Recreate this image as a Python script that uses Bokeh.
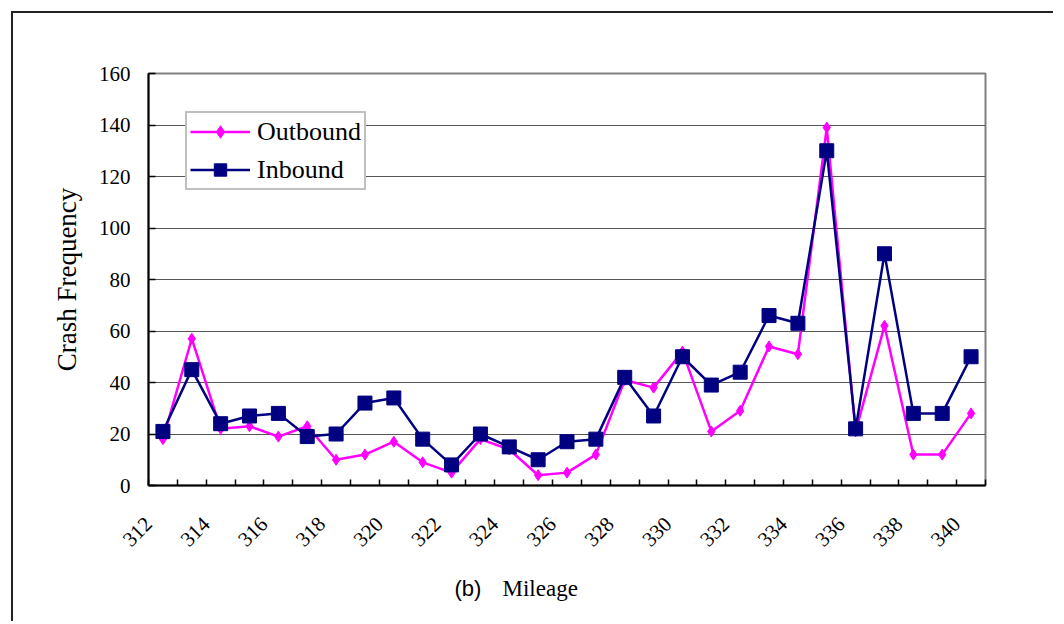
import math
from bokeh.plotting import figure
from bokeh.models import FixedTicker, Title, Range1d, ColumnDataSource, CustomJSTickFormatter
from bokeh.embed import file_html
from bokeh.resources import INLINE

mileage = list(range(312, 341))
outbound = [18, 57, 22, 23, 19, 23, 10, 12, 17, 9, 5, 18, 14, 4, 5, 12, 41, 38, 52, 21, 29, 54, 51, 139, 21, 62, 12, 12, 28]
inbound = [21, 45, 24, 27, 28, 19, 20, 32, 34, 18, 8, 20, 15, 10, 17, 18, 42, 27, 50, 39, 44, 66, 63, 130, 22, 90, 28, 28, 50]
labelled = mileage[::2]

src = ColumnDataSource(dict(mile=mileage, outbound=outbound, inbound=inbound))

p = figure(width=1042, height=610, output_backend="svg", toolbar_location=None,
           x_range=Range1d(mileage[0] - 0.5, mileage[-1] + 0.5), y_range=Range1d(0, 160),
           min_border_left=135, min_border_right=70, min_border_top=60, min_border_bottom=138)
p.styles = {"margin-left": "11px", "margin-top": "11px", "margin-bottom": "-30px",
            "border-left": "2px solid #222222", "border-top": "2px solid #222222"}
p.background_fill_color = "white"
p.border_fill_color = "white"
p.outline_line_color = "#808080"
p.outline_line_width = 2

FONT = "Liberation Serif"

# y axis
p.yaxis.ticker = FixedTicker(ticks=list(range(0, 161, 20)))
p.yaxis.major_label_text_font = FONT
p.yaxis.major_label_text_font_size = "21px"
p.yaxis.major_label_text_color = "black"
p.yaxis.major_tick_in = 7
p.yaxis.major_tick_out = 0
p.yaxis.major_tick_line_color = "black"
p.yaxis.major_tick_line_width = 1.5
p.yaxis.minor_tick_line_color = None
p.yaxis.axis_line_color = "black"
p.yaxis.axis_line_width = 2
p.yaxis.major_label_standoff = 18
p.yaxis.axis_label = "Crash Frequency"
p.yaxis.axis_label_text_font = FONT
p.yaxis.axis_label_text_font_size = "27px"
p.yaxis.axis_label_text_font_style = "normal"
p.yaxis.axis_label_text_color = "black"
p.yaxis.axis_label_standoff = 14

# x axis: labels every other mile, tick marks at category boundaries
p.xaxis.ticker = FixedTicker(ticks=[m - 0.5 for m in labelled],
                             minor_ticks=[m - 0.5 for m in mileage] + [mileage[-1] + 0.5])
p.xaxis.formatter = CustomJSTickFormatter(code="return Math.round(tick + 0.5).toString();")
p.xaxis.major_label_orientation = math.pi / 4
p.xaxis.major_label_text_font = FONT
p.xaxis.major_label_text_font_size = "21px"
p.xaxis.major_label_text_color = "black"
p.xaxis.major_label_standoff = 35
p.xaxis.major_tick_in = 0
p.xaxis.major_tick_out = 0
p.xaxis.minor_tick_in = 6
p.xaxis.minor_tick_out = 0
p.xaxis.minor_tick_line_color = "black"
p.xaxis.minor_tick_line_width = 1.5
p.xaxis.axis_line_color = "black"
p.xaxis.axis_line_width = 2

p.xgrid.visible = False
p.ygrid.grid_line_color = "#555555"
p.ygrid.grid_line_width = 1

p.line("mile", "outbound", source=src, color="#FF00FF", line_width=2.5, legend_label="Outbound")
p.scatter("mile", "outbound", source=src, marker="diamond", size=11, color="#FF00FF", legend_label="Outbound")
p.line("mile", "inbound", source=src, color="#000080", line_width=2.5, legend_label="Inbound")
p.scatter("mile", "inbound", source=src, marker="square", size=14, color="#000080", legend_label="Inbound")

lg = p.legend[0]
lg.location = (37, 295)
lg.label_text_font = FONT
lg.label_text_font_size = "26px"
lg.label_text_color = "black"
lg.glyph_width = 60
lg.glyph_height = 31
lg.label_height = 31
lg.spacing = 7
lg.padding = 3
lg.margin = 0
lg.label_standoff = 7
lg.border_line_color = "#808080"
lg.border_line_width = 2
lg.background_fill_color = "white"
lg.background_fill_alpha = 1

t1 = Title(text="(b)", align="left", offset=306, vertical_align="top", standoff=40,
           text_font="Liberation Sans", text_font_size="22px", text_font_style="normal", text_color="black")
p.add_layout(t1, "below")
t2 = Title(text="Mileage", align="left", offset=354, vertical_align="top", standoff=-94,
           text_font=FONT, text_font_size="23px", text_font_style="normal", text_color="black")
p.add_layout(t2, "below")

open("out.html", "w").write(file_html(p, INLINE))
